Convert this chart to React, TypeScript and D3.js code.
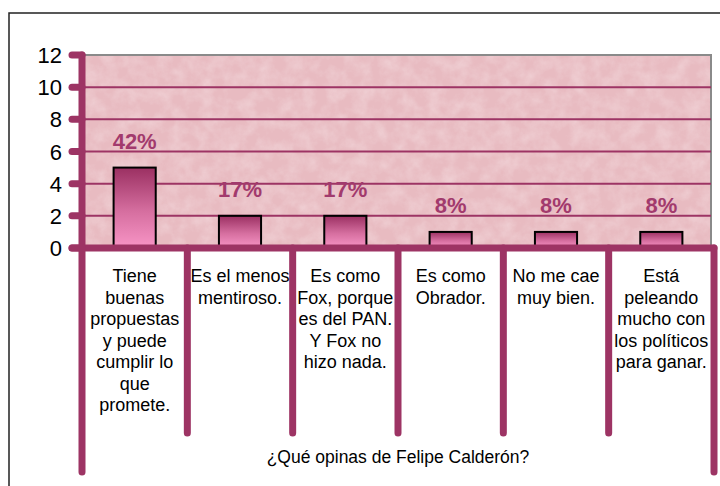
import React from 'react';
import * as d3 from 'd3';

const categories = ['c1', 'c2', 'c3', 'c4', 'c5', 'c6'];
const values = [5, 2, 2, 1, 1, 1];
const pctLabels = ['42%', '17%', '17%', '8%', '8%', '8%'];
const catLines = [
    ['Tiene', 'buenas', 'propuestas', 'y puede', 'cumplir lo', 'que', 'promete.'],
    ['Es el menos', 'mentiroso.'],
    ['Es como', 'Fox, porque', 'es del PAN.', 'Y Fox no', 'hizo nada.'],
    ['Es como', 'Obrador.'],
    ['No me cae', 'muy bien.'],
    ['Está', 'peleando', 'mucho con', 'los políticos', 'para ganar.'],
];
const yTicks = [0, 2, 4, 6, 8, 10, 12];
const axisTitle = '¿Qué opinas de Felipe Calderón?';

const W = 720, H = 486;
const maroon = '#9d3464';
const font = 'Liberation Sans, Arial, sans-serif';

export default function App() {
    const left = 82, right = 714, top = 55, bottom = 248;
    const x = d3.scaleBand().domain(categories).range([left, right]).paddingInner(0.6).paddingOuter(0.3);
    const cell = d3.scaleBand().domain(categories).range([left, right]).padding(0);
    const y = d3.scaleLinear().domain([0, 12]).range([bottom, top]);

    return (
        <svg width={W} height={H} style={{ position: 'absolute', left: 0, top: 0, background: '#fff' }}>
            <defs>
                <linearGradient id="barGrad" x1="0" y1="0" x2="0" y2="1">
                    <stop offset="0%" stopColor="#9b3062" />
                    <stop offset="55%" stopColor="#d66fa0" />
                    <stop offset="100%" stopColor="#f895c6" />
                </linearGradient>
                <filter id="marble" x="0" y="0" width="100%" height="100%">
                    <feTurbulence type="fractalNoise" baseFrequency="0.07" numOctaves="4" seed="5" />
                    <feColorMatrix type="matrix" values="0 0 0 0 1  0 0 0 0 0.95  0 0 0 0 0.96  1.5 0 0 0 -0.5" />
                </filter>
            </defs>

            {/* outer frame */}
            <rect x={9} y={13} width={740} height={500} fill="none" stroke="#222" strokeWidth={1.5} />

            {/* plot area */}
            <rect x={left} y={top} width={right - left - 3} height={bottom - top} fill="#e8bbc1" />
            <rect x={left} y={top} width={right - left - 3} height={bottom - top} filter="url(#marble)" opacity={0.35} />
            <path d={`M${left},${top}H${right - 3}V${bottom}`} fill="none" stroke="#8a8a8a" strokeWidth={2} />

            {/* gridlines */}
            {yTicks.filter(t => t > 0 && t < 12).map(t => (
                <line key={t} x1={left} x2={right - 3} y1={y(t)} y2={y(t)} stroke={maroon} strokeWidth={2} />
            ))}

            {/* bars */}
            {values.map((v, i) => (
                <rect key={i} x={x(categories[i])} y={y(v)} width={x.bandwidth()} height={y(0) - y(v)}
                    fill="url(#barGrad)" stroke="#000" strokeWidth={2} />
            ))}

            {/* value labels */}
            {values.map((v, i) => (
                <text key={i} x={(x(categories[i]) as number) + x.bandwidth() / 2} y={y(v) - 19}
                    textAnchor="middle" fontFamily={font} fontSize={22} fontWeight="bold" fill="#a23a6d">
                    {pctLabels[i]}
                </text>
            ))}

            {/* category dividers */}
            {categories.map((c, i) => i === 0 ? null : (
                <line key={c} x1={cell(c)} x2={cell(c)} y1={bottom} y2={433}
                    stroke={maroon} strokeWidth={7} strokeLinecap="round" />
            ))}
            <line x1={right} x2={right} y1={bottom} y2={472} stroke={maroon} strokeWidth={7} strokeLinecap="round" />
            <line x1={left} x2={left} y1={top} y2={472} stroke={maroon} strokeWidth={7} strokeLinecap="round" />

            {/* x axis line and y ticks */}
            <line x1={72} x2={right} y1={bottom} y2={bottom} stroke={maroon} strokeWidth={7} strokeLinecap="round" />
            {yTicks.map(t => (
                <line key={t} x1={72} x2={left} y1={y(t)} y2={y(t)} stroke={maroon} strokeWidth={7} strokeLinecap="round" />
            ))}
            {yTicks.map(t => (
                <text key={t} x={62} y={y(t) + 8} textAnchor="end" fontFamily={font} fontSize={22} fill="#000">{t}</text>
            ))}

            {/* category labels */}
            {catLines.map((lines, i) => (
                <text key={i} textAnchor="middle" fontFamily={font} fontSize={18} fill="#000">
                    {lines.map((s, j) => (
                        <tspan key={j} x={(cell(categories[i]) as number) + cell.bandwidth() / 2} y={282 + j * 21.5}>{s}</tspan>
                    ))}
                </text>
            ))}

            <text x={(left + right) / 2} y={463} textAnchor="middle" fontFamily={font} fontSize={17.5} fill="#000">{axisTitle}</text>
        </svg>
    );
}
